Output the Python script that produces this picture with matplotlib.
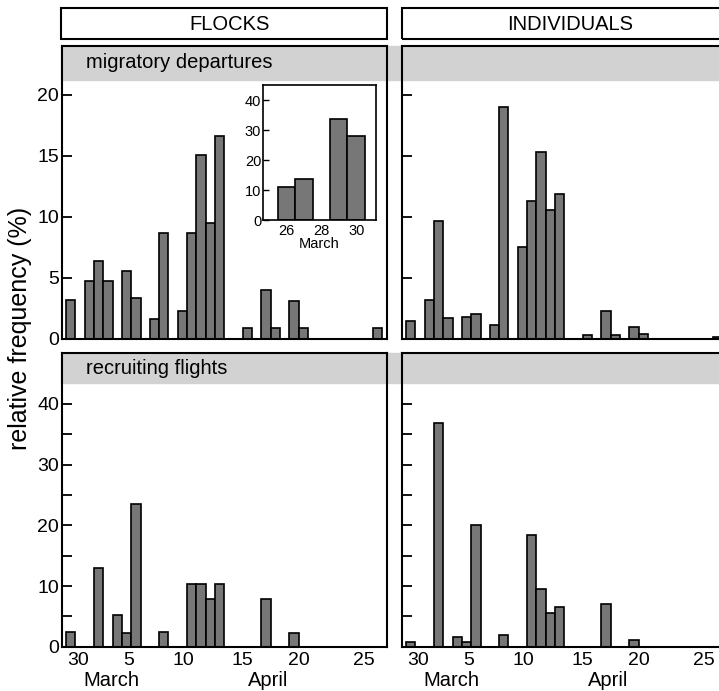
import matplotlib
matplotlib.use("Agg")
import matplotlib.pyplot as plt
from matplotlib.patches import Rectangle

plt.rcParams['font.family'] = ['Liberation Sans', 'DejaVu Sans']

# one bin per day; bin 0 is the first day shown (30 March)
dep_flock_bin = [0, 2, 3, 4, 6, 7, 9, 10, 12, 13, 14, 15, 16, 19, 21, 22, 24, 25, 33]
dep_flock_val = [3.2, 4.75, 6.35, 4.7, 5.55, 3.3, 1.65, 8.7, 2.3, 8.7, 15.05, 9.45, 16.6,
                 0.9, 4.0, 0.9, 3.1, 0.9, 0.9]
dep_indiv_bin = [0, 2, 3, 4, 6, 7, 9, 10, 12, 13, 14, 15, 16, 19, 21, 22, 24, 25, 33]
dep_indiv_val = [1.45, 3.17, 9.67, 1.72, 1.75, 2.0, 1.1, 19.0, 7.5, 11.3, 15.3, 10.55, 11.9,
                 0.3, 2.27, 0.3, 1.0, 0.4, 0.15]
rec_flock_bin = [0, 3, 5, 6, 7, 10, 13, 14, 15, 16, 21, 24]
rec_flock_val = [2.47, 12.9, 5.2, 2.3, 23.5, 2.47, 10.4, 10.4, 7.8, 10.4, 7.8, 2.3]
rec_indiv_bin = [0, 3, 5, 6, 7, 10, 13, 14, 15, 16, 21, 24]
rec_indiv_val = [0.7, 36.9, 1.65, 0.82, 20.0, 1.9, 18.4, 9.5, 5.5, 6.5, 7.0, 1.1]

# inset: flocks, late March
inset_day = [26, 27, 29, 30]
inset_val = [11.1, 13.8, 33.6, 28.0]
inset_ticks = [26, 28, 30]

tick_pos = [0.74, 6.26, 12.1, 18.5, 24.5, 31.5]
tick_lab = ['30', '5', '10', '15', '20', '25']

W, H = 719, 691
BAR = '#777777'
BAND = '#d2d2d2'


def box(l, t, r, b):
    return [l / W, 1 - b / H, (r - l) / W, (b - t) / H]


fig = plt.figure(figsize=(W / 100, H / 100), dpi=100)

tl = fig.add_axes(box(62, 46, 387, 338.7))
tr = fig.add_axes(box(402, 46, 727, 338.7))
bl = fig.add_axes(box(62, 353, 387, 646.7))
br = fig.add_axes(box(402, 353, 727, 646.7))

panels = [(tl, dep_flock_bin, dep_flock_val, 24.0),
          (tr, dep_indiv_bin, dep_indiv_val, 24.0),
          (bl, rec_flock_bin, rec_flock_val, 48.4),
          (br, rec_indiv_bin, rec_indiv_val, 48.4)]

for ax, b, v, top in panels:
    ax.set_facecolor('none')
    ax.bar(b, v, width=1.0, color=BAR, edgecolor='black', linewidth=1.2, zorder=2)
    ax.set_xlim(-0.95, 34.0)
    ax.set_ylim(0, top)
    for s in ax.spines.values():
        s.set_linewidth(1.5)
    ax.tick_params(axis='y', direction='in', length=7, width=1.3, labelsize=14, pad=2)
    ax.tick_params(axis='x', length=0, labelsize=14, pad=4)

for ax in (tl, tr):
    ax.set_yticks([0, 5, 10, 15, 20])
    ax.set_xticks([])
for ax in (bl, br):
    ax.set_yticks([0, 10, 20, 30, 40])
    ax.set_yticks([5, 15, 25, 35], minor=True)
    ax.tick_params(axis='y', which='minor', direction='in', length=7, width=1.3)
    ax.set_xticks(tick_pos)
    ax.set_xticklabels(tick_lab)
for ax in (tr, br):
    ax.tick_params(axis='y', labelleft=False)

# grey bands behind the panel titles, running across both columns
for t, b in [(46, 80), (353, 383)]:
    fig.add_artist(Rectangle((61 / W, 1 - b / H), 1, (b - t) / H, color=BAND, zorder=-1))
fig.text(86 / W, 1 - 63 / H, 'migratory departures', fontsize=14.5, va='center')
fig.text(86 / W, 1 - 368 / H, 'recruiting flights', fontsize=14.5, va='center')

# column headers
for l, r, name in [(61, 387, 'FLOCKS'), (402, 727, 'INDIVIDUALS')]:
    fig.add_artist(Rectangle((l / W, 1 - 39 / H), (r - l) / W, 31 / H, fill=False,
                             edgecolor='black', linewidth=1.5))
    fig.text((l + r) / 2 / W + 6 / W, 1 - 24 / H, name, fontsize=14.5, ha='center', va='center')

fig.text(20 / W, 1 - 328 / H, 'relative frequency (%)', rotation=90, fontsize=18,
         ha='center', va='center')
for dx in (0, 340):
    fig.text((111.7 + dx) / W, 1 - 680 / H, 'March', fontsize=14.5, ha='center', va='center')
    fig.text((268 + dx) / W, 1 - 680 / H, 'April', fontsize=14.5, ha='center', va='center')

# inset
ins = fig.add_axes(box(262.7, 85, 376, 220))
ins.bar(inset_day, inset_val, width=1.0, color=BAR, edgecolor='black', linewidth=1.2)
ins.set_xlim(24.63, 31.14)
ins.set_ylim(0, 45)
ins.set_yticks([0, 10, 20, 30, 40])
ins.set_xticks(inset_ticks)
ins.tick_params(axis='y', direction='in', length=4, width=1, labelsize=10.5, pad=1)
ins.tick_params(axis='x', length=0, labelsize=10.5, pad=3)
ins.set_xlabel('March', fontsize=10.5, labelpad=-1)
for s in ins.spines.values():
    s.set_linewidth(1.2)

fig.savefig('out.png', dpi=100)
